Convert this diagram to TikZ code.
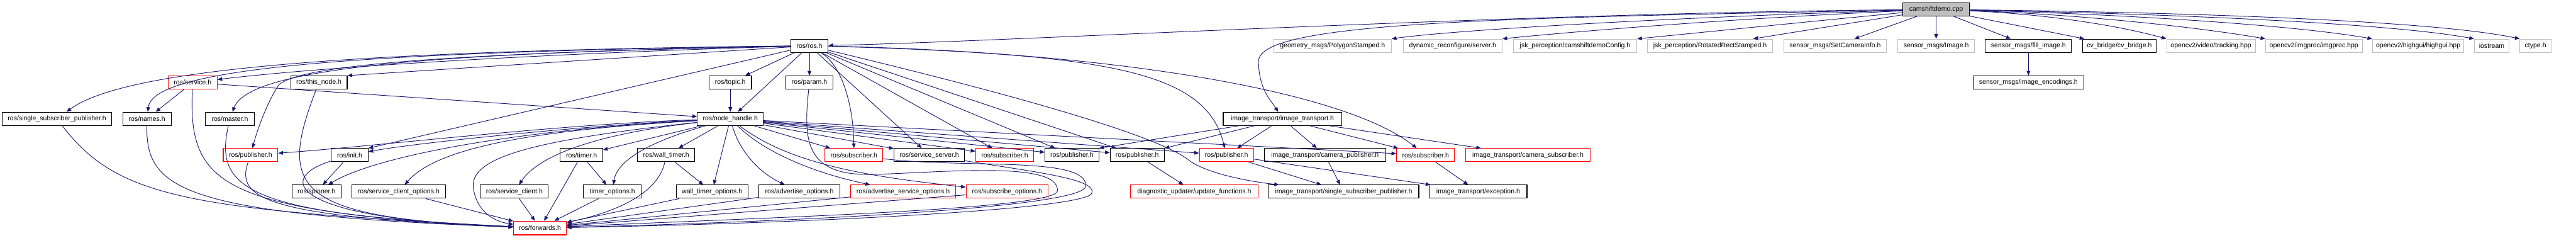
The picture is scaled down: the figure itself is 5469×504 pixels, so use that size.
\documentclass[tikz,border=0pt]{standalone}
\usepackage{fontspec}
\newfontfamily\hdrfont{Liberation Sans}
\usetikzlibrary{arrows.meta}
\definecolor{edgenavy}{HTML}{191970}
\definecolor{extgrey}{HTML}{BFBFBF}
\tikzset{
  hdr/.style={rectangle, draw=black, fill=white, line width=0.4pt, minimum height=0.28cm, inner sep=0pt, font={\hdrfont\fontsize{4pt}{5pt}\selectfont}, text=black},
  trunc/.style={hdr, draw=red},
  ext/.style={hdr, draw=extgrey},
  root/.style={hdr, fill=extgrey},
  dep/.style={-{Triangle[length=0.1cm,width=0.08cm]}, line width=0.35pt, draw=edgenavy},
}
\begin{document}
\begin{tikzpicture}[x=0.01cm,y=-0.01cm]
  \useasboundingbox (0,0) rectangle (5469,504);
  % level 0
  \node[root, minimum width=1.41cm] (cpp) at (4110.5,20) {camshiftdemo.cpp};
  % level 1
  \node[hdr, minimum width=0.79cm] (rosh) at (1718.5,97) {ros/ros.h};
  \node[ext, minimum width=2.50cm] (poly) at (2829,97) {geometry\_msgs/PolygonStamped.h};
  \node[ext, minimum width=2.10cm] (dyn) at (3084,97) {dynamic\_reconfigure/server.h};
  \node[ext, minimum width=2.62cm] (cfg) at (3344,97) {jsk\_perception/camshiftdemoConfig.h};
  \node[ext, minimum width=2.65cm] (rect) at (3630.5,97) {jsk\_perception/RotatedRectStamped.h};
  \node[ext, minimum width=2.18cm] (setcam) at (3896,97) {sensor\_msgs/SetCameraInfo.h};
  \node[ext, minimum width=1.63cm] (image) at (4110.5,97) {sensor\_msgs/Image.h};
  \node[hdr, minimum width=1.83cm] (fill) at (4306.5,97) {sensor\_msgs/fill\_image.h};
  \node[hdr, minimum width=1.57cm] (cvb) at (4499.5,97) {cv\_bridge/cv\_bridge.h};
  \node[ext, minimum width=1.88cm] (track) at (4694,97) {opencv2/video/tracking.hpp};
  \node[ext, minimum width=2.05cm] (imgproc) at (4912.5,97) {opencv2/imgproc/imgproc.hpp};
  \node[ext, minimum width=1.94cm] (highgui) at (5134,97) {opencv2/highgui/highgui.hpp};
  \node[ext, minimum width=0.74cm] (iostr) at (5290,97) {iostream};
  \node[ext, minimum width=0.66cm] (ctype) at (5383,97) {ctype.h};
  % level 2
  \node[trunc, minimum width=1.04cm] (service) at (409,175) {ros/service.h};
  \node[hdr, minimum width=1.20cm] (thisnode) at (677,175) {ros/this\_node.h};
  \node[hdr, minimum width=0.90cm] (topic) at (1550.5,175) {ros/topic.h};
  \node[hdr, minimum width=1.00cm] (param) at (1718.5,175) {ros/param.h};
  \node[hdr, minimum width=2.35cm] (enc) at (4306.5,175) {sensor\_msgs/image\_encodings.h};
  % level 3
  \node[hdr, minimum width=2.33cm] (ssp) at (121,252) {ros/single\_subscriber\_publisher.h};
  \node[hdr, minimum width=1.03cm] (names) at (312,252) {ros/names.h};
  \node[hdr, minimum width=1.03cm] (master) at (488,252) {ros/master.h};
  \node[hdr, minimum width=1.40cm] (nh) at (1550.5,252) {ros/node\_handle.h};
  \node[hdr, minimum width=2.51cm] (itp) at (2722.5,252) {image\_transport/image\_transport.h};
  % level 4
  \node[trunc, minimum width=1.16cm] (pubA) at (532,329) {ros/publisher.h};
  \node[hdr, minimum width=0.78cm] (init) at (742.5,329) {ros/init.h};
  \node[hdr, minimum width=0.90cm] (timer) at (1234.5,329) {ros/timer.h};
  \node[hdr, minimum width=1.21cm] (wtimer) at (1414.3,329) {ros/wall\_timer.h};
  \node[trunc, minimum width=1.23cm] (subA) at (1813,329) {ros/subscriber.h};
  \node[hdr, minimum width=1.49cm] (srv) at (1973,329) {ros/service\_server.h};
  \node[trunc, minimum width=1.23cm] (subB) at (2133,329) {ros/subscriber.h};
  \node[hdr, minimum width=1.14cm] (pubB) at (2275.6,329) {ros/publisher.h};
  \node[hdr, minimum width=1.15cm] (pubC) at (2414.3,329) {ros/publisher.h};
  \node[trunc, minimum width=1.15cm] (pubD) at (2603.8,329) {ros/publisher.h};
  \node[hdr, minimum width=2.57cm] (campub) at (2813,329) {image\_transport/camera\_publisher.h};
  \node[trunc, minimum width=1.23cm] (subC) at (3026.5,329) {ros/subscriber.h};
  \node[trunc, minimum width=2.65cm] (camsub) at (3244,329) {image\_transport/camera\_subscriber.h};
  % level 5
  \node[hdr, minimum width=1.04cm] (spin) at (672,406.5) {ros/spinner.h};
  \node[hdr, minimum width=1.99cm] (sco) at (846.4,406.5) {ros/service\_client\_options.h};
  \node[hdr, minimum width=1.44cm] (sclient) at (1092,406.5) {ros/service\_client.h};
  \node[hdr, minimum width=1.23cm] (topt) at (1300,406.5) {timer\_options.h};
  \node[hdr, minimum width=1.52cm] (wtopt) at (1511.7,406.5) {wall\_timer\_options.h};
  \node[hdr, minimum width=1.71cm] (advo) at (1697,406.5) {ros/advertise\_options.h};
  \node[trunc, minimum width=2.23cm] (advso) at (1917.4,406.5) {ros/advertise\_service\_options.h};
  \node[trunc, minimum width=1.74cm] (subo) at (2138,406.5) {ros/subscribe\_options.h};
  \node[trunc, minimum width=2.70cm] (diag) at (2535.5,406.5) {diagnostic\_updater/update\_functions.h};
  \node[hdr, minimum width=3.19cm] (itssp) at (2852.6,406.5) {image\_transport/single\_subscriber\_publisher.h};
  \node[hdr, minimum width=2.07cm] (exc) at (3138.3,406.5) {image\_transport/exception.h};
  % level 6
  \node[trunc, minimum width=1.12cm, minimum height=0.29cm] (fwd) at (1146.5,483.5) {ros/forwards.h};

  % camshiftdemo.cpp
  \draw[dep] (cpp) .. controls (3200,28) and (2100,90) .. (rosh);
  \draw[dep] (cpp) .. controls (3200,38) and (2672,45) .. (2672,130) .. controls (2672,190) and (2700,215) .. (itp);
  \draw[dep] (cpp) .. controls (3600,35) and (3100,62) .. (poly.north east);
  \draw[dep] (cpp) .. controls (3700,38) and (3350,66) .. (dyn.north east);
  \draw[dep] (cpp) .. controls (3850,45) and (3600,70) .. (cfg.north east);
  \draw[dep] (cpp) -- (rect);
  \draw[dep] (cpp) -- (setcam);
  \draw[dep] (cpp) -- (image);
  \draw[dep] (cpp) -- (fill);
  \draw[dep] (cpp) -- (cvb);
  \draw[dep] (cpp) .. controls (4350,30) and (4500,55) .. (track.north west);
  \draw[dep] (cpp) .. controls (4400,30) and (4650,55) .. (imgproc.north west);
  \draw[dep] (cpp) .. controls (4450,28) and (4850,50) .. (highgui.north west);
  \draw[dep] (cpp) .. controls (4500,27) and (5050,45) .. (iostr.north west);
  \draw[dep] (cpp) .. controls (4550,25) and (5150,40) .. (ctype.north west);
  \draw[dep] (fill) -- (enc);

  % ros/ros.h
  \draw[dep] (rosh) .. controls (700,108) and (260,150) .. (ssp);
  \draw[dep] (rosh) .. controls (800,110) and (325,140) .. (names);
  \draw[dep] (rosh) .. controls (950,112) and (530,140) .. (master);
  \draw[dep] (rosh) .. controls (1200,112) and (700,140) .. (service);
  \draw[dep] (rosh) .. controls (1000,112) and (640,135) .. (592,180) .. controls (565,220) and (545,280) .. (pubA);
  \draw[dep] (rosh) -- (thisnode.north east);
  \draw[dep] (rosh) -- (init.north east);
  \draw[dep] (rosh) -- (topic);
  \draw[dep] (rosh) -- (nh);
  \draw[dep] (rosh) -- (param);
  \draw[dep] (rosh) .. controls (1790,140) and (1812,230) .. (subA);
  \draw[dep] (rosh) -- (srv);
  \draw[dep] (rosh) -- (subB);
  \draw[dep] (rosh) -- (pubB);
  \draw[dep] (rosh) -- (pubC);
  \draw[dep] (rosh) .. controls (2350,115) and (2560,150) .. (pubD);
  \draw[dep] (rosh) .. controls (2350,110) and (2850,190) .. (subC);
  \draw[dep] (rosh) .. controls (2150,200) and (2470,290) .. (2528,343) .. controls (2580,375) and (2680,388) .. (itssp);

  % ros/node_handle.h
  \draw[dep] (topic) -- (nh);
  \draw[dep] (service) -- (nh);
  \draw[dep] (service) -- (names);
  \draw[dep] (nh) -- (timer);
  \draw[dep] (nh) .. controls (1380,300) and (1310,340) .. (topt);
  \draw[dep] (nh) -- (wtimer);
  \draw[dep] (nh) -- (wtopt);
  \draw[dep] (nh) .. controls (1570,320) and (1610,365) .. (advo);
  \draw[dep] (nh) .. controls (1620,320) and (1720,365) .. (advso);
  \draw[dep] (nh) .. controls (1680,350) and (1850,375) .. (subo);
  \draw[dep] (nh) -- (subA);
  \draw[dep] (nh) -- (srv);
  \draw[dep] (nh) -- (subB);
  \draw[dep] (nh) -- (pubB);
  \draw[dep] (nh) -- (pubC);
  \draw[dep] (nh) -- (pubD);
  \draw[dep] (nh) -- (subC);
  \draw[dep] (nh) .. controls (1300,262) and (900,300) .. (init);
  \draw[dep] (nh) .. controls (1200,262) and (800,310) .. (pubA);
  \draw[dep] (nh) .. controls (1100,275) and (800,330) .. (spin);
  \draw[dep] (nh) .. controls (1150,275) and (930,310) .. (sco);
  \draw[dep] (nh) .. controls (1300,280) and (1150,320) .. (sclient);
  \draw[dep] (nh) .. controls (1100,300) and (990,340) .. (1006,405) .. controls (1015,450) and (1050,470) .. (fwd);
  \draw[dep] (init) -- (spin);
  \draw[dep] (timer) -- (topt);
  \draw[dep] (wtimer) -- (wtopt);

  % into ros/forwards.h
  \draw[dep] (ssp) .. controls (250,420) and (400,445) .. (fwd);
  \draw[dep] (names) .. controls (310,400) and (380,455) .. (fwd);
  \draw[dep] (service) .. controls (400,390) and (460,450) .. (fwd);
  \draw[dep] (master) .. controls (455,400) and (520,455) .. (fwd);
  \draw[dep] (pubA) .. controls (500,420) and (560,460) .. (fwd);
  \draw[dep] (thisnode) .. controls (590,400) and (620,462) .. (fwd);
  \draw[dep] (init) .. controls (580,380) and (620,465) .. (fwd);
  \draw[dep] (sco) -- (fwd);
  \draw[dep] (sclient) -- (fwd);
  \draw[dep] (timer) -- (fwd);
  \draw[dep] (topt) -- (fwd);
  \draw[dep] (wtimer) .. controls (1400,400) and (1330,445) .. (fwd);
  \draw[dep] (wtopt) -- (fwd);
  \draw[dep] (advo) -- (fwd);
  \draw[dep] (advso) -- (fwd);
  \draw[dep] (subo) -- (fwd);
  \draw[dep] (subA) .. controls (2050,358) and (2310,330) .. (2305,395) .. controls (2300,440) and (1700,470) .. (fwd);
  \draw[dep] (srv) .. controls (2200,365) and (2330,380) .. (2318,410) .. controls (2300,445) and (1700,474) .. (fwd);
  \draw[dep] (param) .. controls (1705,300) and (1710,372) .. (1850,370) .. controls (2000,366) and (2250,340) .. (2245,405) .. controls (2240,445) and (1600,462) .. (fwd);

  % image_transport/image_transport.h
  \draw[dep] (itp) -- (pubB.north east);
  \draw[dep] (itp) -- (pubC.north east);
  \draw[dep] (itp) -- (pubD);
  \draw[dep] (itp) -- (campub);
  \draw[dep] (itp) -- (subC);
  \draw[dep] (itp) -- (camsub);
  \draw[dep] (pubC) -- (diag);
  \draw[dep] (pubD) -- (itssp);
  \draw[dep] (pubD) -- (exc);
  \draw[dep] (campub) -- (itssp);
  \draw[dep] (subC) -- (exc);
\end{tikzpicture}
\end{document}
